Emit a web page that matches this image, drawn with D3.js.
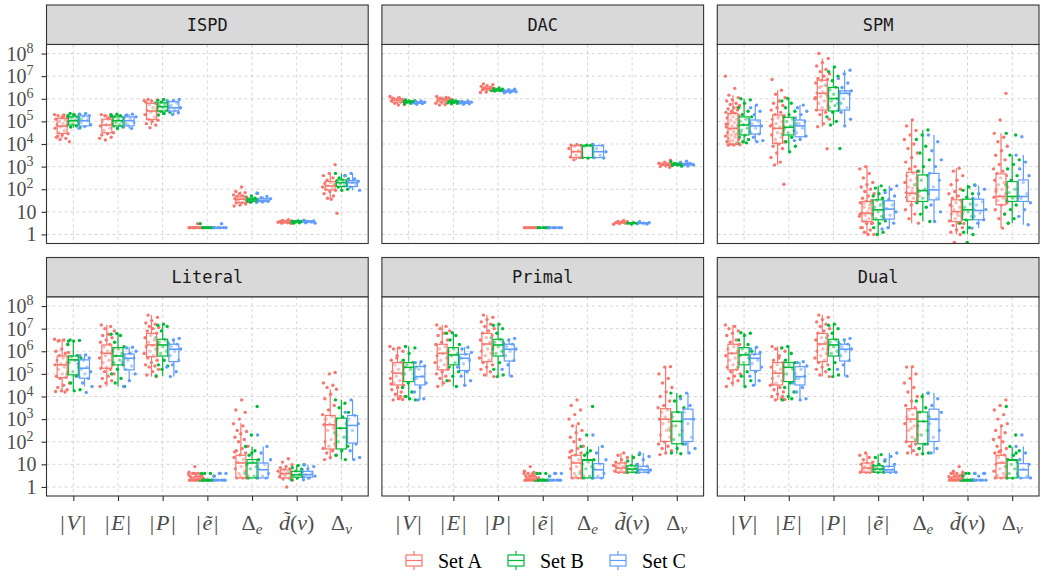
<!DOCTYPE html>
<html lang="en">
<head>
<meta charset="UTF-8">
<title>Hypergraph statistics by benchmark</title>
<script src="https://d3js.org/d3.v7.min.js"></script>
<style>
  body { margin: 0; background: #fff; }
  .strip text { font: 17px "DejaVu Sans Mono", monospace; fill: #1a1a1a; }
  .ylab, .xlab, .legend text { font-family: "Liberation Serif", "DejaVu Serif", serif; fill: #4d4d4d; }
  .legend text { fill: #000; }
  .grid line { stroke: #c4c4c4; stroke-width: 0.7; stroke-dasharray: 3,3; }
  .axis path { display: none; }
  .axis line { stroke: #333; stroke-width: 1.1; }
</style>
</head>
<body>
<svg width="1045" height="577"></svg>
<script>
// ---- data (all values are log10 of the measured quantity) ----
const facets = ["ISPD", "DAC", "SPM", "Literal", "Primal", "Dual"];
const measures = ["V", "E", "P", "e", "De", "d", "Dv"];
const sets = ["Set A", "Set B", "Set C"];
const colors = ["#F8766D", "#00BA38", "#619CFF"];
const decades = [0, 1, 2, 3, 4, 5, 6, 7, 8];

// box stats per measure, per set: [lower whisker, q1, median, q3, upper whisker]
const ispdBox = [
  [[4.25,4.47,4.79,5.13,5.3],[4.72,4.84,5.03,5.2,5.35],[4.7,4.8,5.03,5.24,5.35]],
  [[4.4,4.5,4.84,5.1,5.3],[4.69,4.8,5.03,5.2,5.32],[4.69,4.8,5.03,5.2,5.32]],
  [[4.84,5.09,5.46,5.8,5.97],[5.28,5.46,5.65,5.82,5.97],[5.28,5.46,5.6,5.87,5.97]],
  [[0.301,0.301,0.301,0.301,0.301],[0.301,0.301,0.301,0.301,0.301],[0.301,0.301,0.301,0.301,0.301]],
  [[1.26,1.41,1.56,1.68,1.9],[1.4,1.47,1.53,1.6,1.7],[1.4,1.45,1.5,1.58,1.68]],
  [[0.48,0.54,0.57,0.6,0.65],[0.5,0.55,0.57,0.6,0.62],[0.5,0.55,0.57,0.6,0.62]],
  [[1.6,1.97,2.15,2.34,2.7],[1.95,2.12,2.29,2.41,2.7],[1.95,2.12,2.29,2.38,2.7]]
];
const ispdPts = [
  [[5.3,5.28,5.25,5.2,5.15,5.1,5.05,5.0,4.95,4.9,4.85,4.8,4.75,4.7,4.6,4.5,4.45,4.4,4.3,4.25,4.2,4.1,5.22,4.35],
   [5.35,5.32,5.3,5.25,5.2,5.15,5.1,5.05,5.0,4.95,4.9,4.85,4.8,4.75,4.72,5.28,5.18,5.08],
   [5.35,5.3,5.25,5.2,5.1,5.03,4.95,4.85,4.78,4.7,5.15]],
  [[5.3,5.28,5.25,5.2,5.1,5.0,4.9,4.85,4.8,4.7,4.6,4.5,4.45,4.4,4.3,4.18,4.25,5.15],
   [5.32,5.3,5.25,5.2,5.15,5.1,5.05,5.0,4.95,4.9,4.85,4.8,4.75,4.69,5.22],
   [5.32,5.28,5.2,5.12,5.03,4.95,4.85,4.78,4.69,5.25]],
  [[5.97,5.95,5.9,5.85,5.8,5.75,5.7,5.6,5.5,5.45,5.4,5.3,5.2,5.1,5.05,5.0,4.9,4.84,4.72,5.92],
   [5.97,5.93,5.9,5.85,5.8,5.75,5.7,5.65,5.6,5.55,5.5,5.45,5.4,5.35,5.28],
   [5.97,5.92,5.88,5.8,5.7,5.6,5.5,5.45,5.38,5.3]],
  [[0.301,0.301,0.301,0.301,0.301,0.301,0.301,0.301,0.301,0.301,0.477],
   [0.301,0.301,0.301,0.301,0.301,0.301,0.301,0.477],
   [0.301,0.301,0.301,0.301,0.301,0.301,0.477]],
  [[2.1,1.9,1.85,1.8,1.75,1.7,1.68,1.65,1.6,1.58,1.55,1.5,1.45,1.42,1.4,1.35,1.3,1.26,1.6,1.52],
   [1.82,1.7,1.65,1.6,1.55,1.53,1.5,1.48,1.45,1.42],
   [1.82,1.68,1.62,1.58,1.55,1.5,1.47,1.44,1.42]],
  [[0.65,0.62,0.6,0.58,0.57,0.56,0.55,0.54,0.52,0.5,0.48],
   [0.62,0.6,0.58,0.57,0.56,0.55,0.52,0.5],
   [0.62,0.6,0.58,0.57,0.55,0.52,0.5]],
  [[3.09,2.7,2.6,2.5,2.4,2.35,2.3,2.25,2.2,2.15,2.1,2.05,2.0,1.95,1.9,1.8,1.7,1.6,0.94,1.56],
   [2.7,2.6,2.5,2.45,2.4,2.35,2.3,2.25,2.2,2.15,2.1,2.0,1.95],
   [2.7,2.6,2.45,2.4,2.35,2.3,2.25,2.2,2.1,1.95]]
];

const dacBox = [
  [[5.75,5.85,5.94,6.0,6.1],[5.8,5.84,5.87,5.9,5.95],[5.77,5.8,5.83,5.86,5.9]],
  [[5.75,5.86,5.95,6.02,6.1],[5.8,5.84,5.87,5.9,5.95],[5.77,5.8,5.83,5.86,5.9]],
  [[6.3,6.4,6.46,6.52,6.62],[6.32,6.35,6.38,6.42,6.46],[6.28,6.31,6.34,6.37,6.42]],
  [[0.301,0.301,0.301,0.301,0.301],[0.301,0.301,0.301,0.301,0.301],[0.301,0.301,0.301,0.301,0.301]],
  [[3.3,3.4,3.66,3.93,3.98],[3.38,3.4,3.93,3.93,3.98],[3.38,3.4,3.66,3.93,3.98]],
  [[0.45,0.5,0.53,0.56,0.62],[0.46,0.48,0.5,0.52,0.55],[0.46,0.48,0.5,0.52,0.55]],
  [[2.95,3.05,3.1,3.15,3.25],[3.02,3.06,3.1,3.13,3.2],[3.02,3.07,3.1,3.14,3.2]]
];
const dacPts = [
  [[6.1,6.05,6.0,5.97,5.94,5.9,5.86,5.8,5.75,5.72,6.02,5.92],
   [5.95,5.92,5.9,5.88,5.87,5.85,5.83,5.8,5.78],
   [5.9,5.87,5.85,5.83,5.81,5.79,5.76]],
  [[6.1,6.06,6.02,5.98,5.95,5.92,5.88,5.85,5.8,5.75,5.72,6.04],
   [5.95,5.92,5.9,5.88,5.86,5.84,5.82,5.8,5.78],
   [5.9,5.88,5.85,5.83,5.81,5.78,5.76]],
  [[6.66,6.62,6.58,6.55,6.5,6.48,6.46,6.44,6.4,6.36,6.3,6.28],
   [6.48,6.45,6.42,6.4,6.38,6.36,6.34,6.32],
   [6.42,6.4,6.37,6.35,6.33,6.31,6.29,6.26]],
  [[0.301,0.301,0.301,0.301,0.301,0.301,0.301,0.301],
   [0.301,0.301,0.301,0.301,0.301,0.301],
   [0.301,0.301,0.301,0.301,0.301,0.301]],
  [[3.98,3.95,3.93,3.9,3.8,3.7,3.66,3.6,3.5,3.42,3.4,3.3],
   [3.98,3.95,3.93,3.93,3.9,3.4,3.38,3.4],
   [3.98,3.93,3.8,3.66,3.5,3.4,3.38]],
  [[0.62,0.58,0.56,0.54,0.52,0.5,0.48,0.45],
   [0.55,0.52,0.5,0.48,0.46],
   [0.55,0.52,0.5,0.48,0.46]],
  [[3.28,3.2,3.15,3.12,3.1,3.08,3.05,3.0,2.97],
   [3.22,3.18,3.14,3.1,3.08,3.05,3.02],
   [3.24,3.18,3.14,3.1,3.07,3.03]]
];

const spmBox = [
  [[3.95,4.0,4.69,5.35,6.16],[4.03,4.4,4.84,5.2,6.0],[4.1,4.44,4.8,5.06,5.72]],
  [[3.07,4.03,4.69,5.28,6.38],[3.66,4.4,4.74,5.18,6.01],[4.15,4.32,4.8,5.06,5.72]],
  [[4.76,5.5,6.24,6.82,7.78],[4.84,5.46,6.01,6.5,7.41],[4.8,5.5,6.24,6.35,7.26]],
  [[0,0.57,0.94,1.46,3.0],[0,0.65,1.09,1.53,2.15],[0.24,0.68,1.12,1.49,2.15]],
  [[0.5,1.46,1.82,2.75,5.06],[0.57,1.46,1.94,2.63,4.62],[0.57,1.53,1.97,2.7,4.4]],
  [[0,0.57,1.01,1.53,2.93],[0,0.65,1.09,1.56,2.19],[0.28,0.65,1.06,1.56,2.16]],
  [[0.28,1.31,1.68,2.68,4.47],[0.5,1.46,1.68,2.34,3.51],[0.43,1.46,1.68,2.41,3.51]]
];
const spmPts = [
  [[7.0,6.46,6.16,6.05,5.95,5.9,5.8,5.75,5.7,5.6,5.55,5.5,5.45,5.4,5.35,5.3,5.25,5.2,5.15,5.1,5.05,5.0,4.95,4.9,4.85,4.8,4.75,4.7,4.65,4.6,4.55,4.5,4.45,4.4,4.35,4.3,4.25,4.2,4.15,4.1,4.05,4.0,3.97,3.96,3.95,5.62,5.38,4.88,4.42,4.12,4.02,3.98],
   [6.0,5.95,5.8,5.6,5.45,5.3,5.2,5.1,5.0,4.9,4.85,4.8,4.7,4.6,4.5,4.4,4.3,4.2,4.1,4.03,4.05,4.5,4.95],
   [5.72,5.6,5.45,5.3,5.1,5.0,4.9,4.8,4.7,4.55,4.45,4.3,4.15,4.1]],
  [[6.85,6.38,6.2,6.05,5.9,5.8,5.7,5.6,5.5,5.4,5.3,5.25,5.2,5.1,5.0,4.9,4.8,4.75,4.7,4.6,4.5,4.4,4.3,4.2,4.1,4.0,3.9,3.8,3.6,3.4,3.2,3.07,2.22,5.15,4.85,4.45,4.05],
   [6.01,5.9,5.8,5.6,5.45,5.3,5.2,5.1,5.0,4.9,4.8,4.7,4.6,4.5,4.4,4.3,4.1,3.9,3.66,4.75],
   [5.72,5.6,5.45,5.3,5.15,5.0,4.9,4.8,4.7,4.5,4.35,4.2,4.15]],
  [[8.0,7.78,7.6,7.45,7.3,7.2,7.1,7.0,6.9,6.85,6.8,6.7,6.6,6.5,6.4,6.3,6.25,6.2,6.1,6.0,5.9,5.8,5.7,5.6,5.5,5.4,5.3,5.1,4.9,4.76,3.79,6.55,6.05],
   [7.41,7.2,7.0,6.8,6.6,6.5,6.4,6.3,6.2,6.1,6.0,5.9,5.8,5.7,5.6,5.5,5.4,5.2,5.0,4.84,3.8],
   [7.26,7.1,6.9,6.7,6.5,6.35,6.3,6.25,6.2,6.0,5.8,5.6,5.4,5.1,4.8]],
  [[3.0,2.9,2.7,2.5,2.3,2.2,2.1,2.0,1.9,1.8,1.7,1.6,1.5,1.45,1.4,1.3,1.2,1.1,1.0,0.95,0.9,0.85,0.8,0.7,0.6,0.5,0.48,0.3,0.2,0.1,0,0,0.3,0.48,0.6,0.9,1.15,1.35],
   [2.15,2.05,1.95,1.8,1.7,1.6,1.5,1.4,1.3,1.2,1.1,1.0,0.9,0.8,0.7,0.6,0.48,0.3,0.1,0],
   [2.15,2.0,1.85,1.7,1.55,1.4,1.3,1.15,1.0,0.85,0.7,0.5,0.3,0.24]],
  [[5.06,4.8,4.6,4.4,4.2,4.0,3.8,3.6,3.4,3.2,3.0,2.9,2.8,2.7,2.6,2.5,2.4,2.3,2.2,2.1,2.0,1.9,1.85,1.8,1.75,1.7,1.6,1.5,1.45,1.3,1.1,0.9,0.7,0.5,2.05,1.65],
   [4.62,4.4,4.2,3.9,3.6,3.3,3.0,2.8,2.6,2.4,2.2,2.0,1.9,1.8,1.6,1.4,1.2,0.9,0.57],
   [4.4,4.1,3.7,3.3,3.0,2.7,2.4,2.1,1.9,1.6,1.3,1.0,0.57]],
  [[2.93,2.8,2.6,2.4,2.2,2.0,1.9,1.8,1.7,1.6,1.5,1.4,1.3,1.2,1.1,1.0,0.95,0.9,0.8,0.7,0.6,0.5,0.4,0.3,0.2,0.1,0,-0.35,0.48,0.85,1.25],
   [2.19,2.1,1.95,1.8,1.65,1.5,1.35,1.2,1.1,1.0,0.9,0.8,0.65,0.5,0.3,0.1,0,-0.35],
   [2.16,2.0,1.8,1.6,1.45,1.3,1.1,0.95,0.8,0.65,0.5,0.28]],
  [[6.24,5.06,4.47,4.3,4.1,3.9,3.7,3.5,3.3,3.1,2.9,2.8,2.7,2.6,2.5,2.4,2.3,2.2,2.1,2.0,1.9,1.8,1.7,1.65,1.6,1.5,1.4,1.3,1.1,0.9,0.7,0.5,0.28,2.0],
   [4.47,4.4,3.51,3.3,3.1,2.9,2.6,2.4,2.2,2.0,1.85,1.7,1.6,1.5,1.3,1.1,0.9,0.7,0.5],
   [4.32,3.51,3.2,2.9,2.6,2.3,2.0,1.8,1.6,1.4,1.1,0.8,0.43]]
];

const literalBox = [
  [[4.22,4.84,5.4,5.79,6.53],[4.29,4.96,5.62,5.79,6.5],[4.44,4.81,5.25,5.62,5.84]],
  [[4.44,5.25,5.91,6.28,7.16],[4.44,5.4,5.79,6.16,6.79],[4.66,5.18,5.69,5.88,6.18]],
  [[4.88,5.76,6.28,6.79,7.6],[4.91,5.79,6.28,6.53,7.2],[4.88,5.54,6.09,6.31,6.57]],
  [[0.301,0.32,0.35,0.44,0.65],[0.301,0.301,0.301,0.301,0.301],[0.301,0.301,0.301,0.301,0.301]],
  [[0.4,0.4,1.06,1.4,2.82],[0.4,0.4,1.06,1.21,1.79],[0.4,0.4,0.76,1.06,1.79]],
  [[0.4,0.4,0.59,0.76,0.98],[0.32,0.43,0.54,0.69,0.98],[0.32,0.43,0.54,0.69,0.98]],
  [[1.21,1.68,2.75,3.16,4.32],[1.21,1.68,2.6,3.04,3.85],[1.21,1.94,2.72,3.16,3.85]]
];
const literalPts = [
  [[6.53,6.5,6.45,6.3,6.1,6.0,5.9,5.8,5.75,5.7,5.6,5.5,5.45,5.4,5.3,5.2,5.1,5.0,4.9,4.85,4.8,4.6,4.5,4.4,4.3,4.25,4.22,4.2,6.48,5.95],
   [6.5,6.48,6.45,6.3,5.8,5.75,5.7,5.6,5.5,5.3,5.1,5.0,4.9,4.6,4.3,4.25,6.45],
   [5.84,5.8,5.7,5.6,5.45,5.3,5.2,5.1,5.0,4.9,4.8,4.6,4.44,4.18]],
  [[7.16,7.1,7.0,6.9,6.75,6.7,6.6,6.5,6.4,6.3,6.2,6.1,6.0,5.95,5.9,5.8,5.7,5.6,5.5,5.4,5.3,5.25,5.2,5.1,5.0,4.9,4.8,4.7,4.6,4.44],
   [6.79,6.75,6.7,6.4,6.2,6.1,6.0,5.9,5.8,5.7,5.6,5.5,5.4,5.2,5.0,4.8,4.6,4.44],
   [6.18,6.15,6.0,5.9,5.8,5.7,5.6,5.5,5.35,5.2,5.0,4.7,4.44]],
  [[7.6,7.5,7.35,7.25,7.2,7.1,7.05,7.0,6.9,6.8,6.7,6.6,6.5,6.4,6.3,6.25,6.2,6.1,6.0,5.9,5.8,5.7,5.6,5.5,5.4,5.35,5.3,5.2,5.1,4.95,4.88],
   [7.2,7.15,7.1,6.9,6.6,6.5,6.4,6.3,6.2,6.1,6.0,5.9,5.8,5.6,5.4,5.35,5.2,4.91],
   [6.57,6.5,6.4,6.3,6.2,6.1,6.0,5.8,5.6,5.4,5.3,5.1,4.88]],
  [[0.9,0.65,0.6,0.6,0.5,0.48,0.45,0.42,0.4,0.38,0.35,0.33,0.32,0.3,0.3,0.3,0.3,0.3,0.3,0.3,0.48,0.6,0.55,0.4],
   [0.6,0.6,0.48,0.3,0.3,0.3,0.3,0.3,0.3,0.3,0.3,0.3,0.6],
   [0.6,0.6,0.48,0.3,0.3,0.3,0.3,0.3,0.3,0.6]],
  [[3.85,3.4,3.3,3.0,2.8,2.7,2.5,2.45,2.35,2.2,2.1,2.0,1.8,1.7,1.6,1.5,1.4,1.3,1.2,1.1,1.0,0.9,0.8,0.7,0.6,0.5,0.4,0.4,0.4,0.48,1.55],
   [3.56,2.3,1.79,1.6,1.4,1.2,1.1,1.0,0.9,0.8,0.6,0.48,0.4,0.4,1.5],
   [2.3,1.79,1.5,1.2,1.0,0.8,0.6,0.48,0.4,0.4]],
  [[1.25,1.1,0.98,0.9,0.85,0.8,0.75,0.7,0.65,0.6,0.55,0.5,0.45,0.4,0.35,0.3,0,0.6,0.7,0.55],
   [0.98,0.95,0.85,0.78,0.7,0.62,0.55,0.5,0.45,0.4,0.32,0.6],
   [0.98,0.9,0.8,0.7,0.6,0.55,0.48,0.4,0.32]],
  [[5.06,5.0,4.6,4.5,4.4,4.32,4.1,3.9,3.6,3.4,3.2,3.1,3.0,2.9,2.8,2.75,2.6,2.5,2.3,2.1,2.0,1.9,1.8,1.7,1.6,1.5,1.4,1.3,1.21,2.7],
   [3.85,3.7,3.5,3.3,3.1,3.0,2.8,2.6,2.4,2.2,2.0,1.8,1.6,1.4,1.21],
   [3.85,3.3,3.15,3.0,2.8,2.5,2.2,1.9,1.6,1.3,1.21]]
];

const primalBox = [
  [[3.85,4.51,5.03,5.5,6.21],[3.85,4.66,5.29,5.5,6.21],[3.85,4.51,4.88,5.32,5.54]],
  [[4.44,5.18,5.91,6.31,7.16],[4.44,5.4,5.84,6.16,6.82],[4.47,5.15,5.69,5.87,6.18]],
  [[4.88,5.54,6.32,6.79,7.6],[4.88,5.79,6.28,6.53,7.2],[4.88,5.57,6.09,6.31,6.57]],
  [[0.301,0.32,0.35,0.44,0.65],[0.301,0.301,0.301,0.301,0.301],[0.301,0.301,0.301,0.301,0.301]],
  [[0.4,0.4,1.06,1.4,2.75],[0.4,0.4,1.18,1.21,1.79],[0.4,0.4,0.76,1.03,1.79]],
  [[0.65,0.65,0.84,1.06,1.5],[0.65,0.65,0.79,0.94,1.43],[0.65,0.65,0.76,0.91,1.5]],
  [[1.43,2.01,3.0,3.46,5.32],[1.47,1.91,2.9,3.31,4.15],[1.47,2.01,3.0,3.44,4.15]]
];
const primalPts = [
  [[6.21,6.15,6.1,6.0,5.8,5.6,5.5,5.4,5.3,5.2,5.1,5.0,4.9,4.8,4.7,4.6,4.5,4.4,4.3,4.2,4.1,4.0,3.9,3.85,3.87,5.7,4.55,4.0],
   [6.21,6.15,5.9,5.6,5.5,5.4,5.3,5.2,5.0,4.8,4.6,4.4,4.2,4.0,3.85,3.9],
   [5.54,5.5,5.35,5.2,5.0,4.9,4.8,4.6,4.4,4.2,3.9,3.85]],
  [[7.16,7.1,7.0,6.9,6.8,6.7,6.5,6.4,6.3,6.2,6.1,6.0,5.9,5.8,5.7,5.6,5.5,5.4,5.3,5.2,5.1,5.0,4.9,4.8,4.7,4.6,4.44],
   [6.82,6.8,6.7,6.5,6.3,6.1,6.0,5.9,5.8,5.7,5.5,5.3,5.1,4.9,4.7,4.44],
   [6.18,6.1,5.95,5.85,5.7,5.6,5.45,5.3,5.1,4.9,4.7,4.5]],
  [[7.6,7.5,7.4,7.3,7.2,7.1,7.0,6.9,6.8,6.7,6.6,6.5,6.4,6.3,6.2,6.1,6.0,5.9,5.8,5.7,5.6,5.5,5.4,5.3,5.2,5.1,4.95,4.88],
   [7.2,7.15,7.0,6.8,6.6,6.5,6.4,6.3,6.2,6.1,6.0,5.9,5.8,5.5,5.2,4.95,4.88],
   [6.57,6.5,6.4,6.3,6.2,6.1,6.0,5.8,5.6,5.4,5.2,4.9]],
  [[0.9,0.7,0.65,0.6,0.6,0.5,0.48,0.45,0.42,0.4,0.38,0.35,0.33,0.32,0.3,0.3,0.3,0.3,0.3,0.3,0.3,0.48,0.6,0.55],
   [0.6,0.6,0.48,0.3,0.3,0.3,0.3,0.3,0.3,0.3,0.3,0.3,0.6],
   [0.6,0.6,0.48,0.3,0.3,0.3,0.3,0.3,0.3,0.6]],
  [[3.85,3.6,3.4,3.2,3.0,2.8,2.7,2.5,2.4,2.2,2.1,2.0,1.8,1.7,1.6,1.5,1.4,1.3,1.2,1.1,1.0,0.9,0.8,0.7,0.6,0.5,0.4,0.4,0.4,0.48,1.55],
   [3.56,2.3,1.79,1.6,1.4,1.2,1.1,1.0,0.9,0.8,0.6,0.48,0.4,0.4,1.5],
   [2.3,1.79,1.5,1.2,1.0,0.8,0.6,0.48,0.4,0.4]],
  [[1.5,1.4,1.3,1.2,1.1,1.05,1.0,0.95,0.9,0.85,0.8,0.75,0.7,0.65,0.65,0.65,0.7,0.9],
   [1.43,1.3,1.15,1.0,0.95,0.9,0.85,0.8,0.75,0.7,0.65,0.65],
   [1.5,1.35,1.2,1.0,0.9,0.8,0.75,0.7,0.65,0.65]],
  [[5.32,5.3,5.0,4.8,4.6,4.4,4.2,4.0,3.8,3.6,3.5,3.4,3.3,3.2,3.1,3.0,2.9,2.8,2.7,2.5,2.3,2.2,2.0,1.9,1.8,1.7,1.6,1.5,1.43,2.6],
   [4.15,4.0,3.8,3.5,3.3,3.1,2.9,2.7,2.5,2.3,2.1,1.9,1.7,1.5,1.47],
   [4.15,3.9,3.6,3.3,3.0,2.8,2.5,2.2,1.9,1.7,1.5]]
];

// the dual swaps vertices and edges: its measures are the primal ones in this order
const dualFromPrimal = [1, 0, 2, 5, 6, 3, 4];
const dualBox = dualFromPrimal.map(k => primalBox[k]);
const dualPts = dualFromPrimal.map(k => primalPts[k]);

const boxData = [ispdBox, dacBox, spmBox, literalBox, primalBox, dualBox];
const ptsData = [ispdPts, dacPts, spmPts, literalPts, primalPts, dualPts];

// axis labels as (text, italic, subscript) pieces
const xLabels = [
  [["|"], ["\u200AV\u200A", 1], ["|"]],
  [["|"], ["\u200AE\u200A", 1], ["|"]],
  [["|"], ["\u200AP\u200A", 1], ["|"]],
  [["|"], ["\u200A\u1EBD\u200A", 1], ["|"]],
  [["\u0394"], ["e", 1, 1]],
  [["d\u0303", 1], ["("], ["v", 1], [")"]],
  [["\u0394"], ["v", 1, 1]]
];

// ---- layout ----
const svg = d3.select("svg");
const panelW = 321.7, panelH = 199, stripH = 39.5;
const colX = [46.5, 381.9, 717.3];
const rowY = [5, 257.5];

const x = d3.scalePoint().domain(measures).range([0, panelW]).padding(0.6);
const y = d3.scaleLog().domain([Math.pow(10, -0.4), Math.pow(10, 8.4)]).range([panelH, 0]);
const step = x.step();
const boxW = step * 0.25;
const jitterW = step * 0.34;

function jitter(i, s, m) {
  return (((i * 0.618034 + s * 0.29 + m * 0.137) % 1) - 0.5) * jitterW;
}

function superTick(sel, d) {
  if (d === 0) sel.text("1");
  else if (d === 1) sel.text("10");
  else {
    sel.text("10");
    sel.append("tspan").attr("dy", -8).attr("font-size", 14).text(d);
  }
}

facets.forEach((name, fi) => {
  const col = fi % 3, row = Math.floor(fi / 3);
  const g = svg.append("g").attr("transform", `translate(${colX[col]},${rowY[row]})`);

  // strip
  const strip = g.append("g").attr("class", "strip");
  strip.append("rect")
    .attr("width", panelW).attr("height", stripH)
    .attr("fill", "#d9d9d9").attr("stroke", "#333").attr("stroke-width", 1.1);
  strip.append("text")
    .attr("x", panelW / 2).attr("y", stripH / 2).attr("dy", "0.36em")
    .attr("text-anchor", "middle").text(name);

  const p = g.append("g").attr("transform", `translate(0,${stripH})`);
  p.append("rect").attr("width", panelW).attr("height", panelH).attr("fill", "#fff");

  // grid
  const grid = p.append("g").attr("class", "grid");
  grid.selectAll("line.h").data(decades).join("line")
    .attr("x1", 0).attr("x2", panelW)
    .attr("y1", d => y(Math.pow(10, d))).attr("y2", d => y(Math.pow(10, d)));
  grid.selectAll("line.v").data(measures).join("line")
    .attr("x1", d => x(d)).attr("x2", d => x(d))
    .attr("y1", 0).attr("y2", panelH);

  const boxes = boxData[fi], pts = ptsData[fi];

  // jittered points
  measures.forEach((m, mi) => {
    sets.forEach((s, si) => {
      const cx = x(m) + (si - 1) * boxW;
      p.append("g").selectAll("circle").data(pts[mi][si]).join("circle")
        .attr("cx", (d, i) => cx + jitter(i, si, mi))
        .attr("cy", d => y(Math.pow(10, d)))
        .attr("r", 1.7)
        .attr("fill", colors[si]);
    });
  });

  // boxes on top
  measures.forEach((m, mi) => {
    sets.forEach((s, si) => {
      const [lo, q1, med, q3, hi] = boxes[mi][si].map(v => y(Math.pow(10, v)));
      const cx = x(m) + (si - 1) * boxW;
      const bg = p.append("g").attr("stroke", colors[si]).attr("stroke-width", 1.2);
      bg.append("line").attr("x1", cx).attr("x2", cx).attr("y1", q3).attr("y2", hi);
      bg.append("line").attr("x1", cx).attr("x2", cx).attr("y1", q1).attr("y2", lo);
      bg.append("rect")
        .attr("x", cx - boxW / 2 + 0.6).attr("width", boxW - 1.2)
        .attr("y", q3).attr("height", Math.max(0.01, q1 - q3))
        .attr("fill", "#fff").attr("fill-opacity", 0.5);
      bg.append("line").attr("x1", cx - boxW / 2 + 0.6).attr("x2", cx + boxW / 2 - 0.6)
        .attr("y1", med).attr("y2", med).attr("stroke-width", 1.6);
    });
  });

  // border
  p.append("rect").attr("width", panelW).attr("height", panelH)
    .attr("fill", "none").attr("stroke", "#333").attr("stroke-width", 1.1);

  if (col === 0) {
    p.append("g").attr("class", "axis")
      .call(d3.axisLeft(y).tickValues(decades.map(d => Math.pow(10, d))).tickSize(5).tickFormat(""));
    p.append("g").selectAll("text").data(decades).join("text")
      .attr("class", "ylab")
      .attr("x", d => d < 2 ? -10 : -13).attr("y", d => y(Math.pow(10, d))).attr("dy", "0.35em")
      .attr("text-anchor", "end").attr("font-size", 20)
      .each(function(d) { superTick(d3.select(this), d); });
  }

  if (row === 1) {
    p.append("g").attr("class", "axis").attr("transform", `translate(0,${panelH})`)
      .call(d3.axisBottom(x).tickSize(5).tickFormat(""));
    measures.forEach((m, mi) => {
      const t = p.append("text").attr("class", "xlab")
        .attr("x", x(m)).attr("y", panelH + 34)
        .attr("text-anchor", "middle").attr("font-size", 22);
      xLabels[mi].forEach(([txt, it, sub]) => {
        const ts = t.append("tspan").text(txt);
        if (it) ts.attr("font-style", "italic");
        if (sub) ts.attr("font-size", 15).attr("dy", 4);
      });
    });
  }
});

// ---- legend ----
const legend = svg.append("g").attr("class", "legend");
sets.forEach((s, si) => {
  const lx = 405 + si * 102, ly = 551;
  const k = legend.append("g").attr("stroke", colors[si]).attr("stroke-width", 1.2).attr("fill", "none");
  k.append("line").attr("x1", lx + 9).attr("x2", lx + 9).attr("y1", ly).attr("y2", ly + 4);
  k.append("line").attr("x1", lx + 9).attr("x2", lx + 9).attr("y1", ly + 15).attr("y2", ly + 19);
  k.append("rect").attr("x", lx + 1).attr("y", ly + 4).attr("width", 16).attr("height", 11);
  k.append("line").attr("x1", lx + 1).attr("x2", lx + 17).attr("y1", ly + 9.5).attr("y2", ly + 9.5);
  legend.append("text").attr("x", lx + 33).attr("y", ly + 10).attr("dy", "0.35em")
    .attr("font-size", 20).text(s);
});
</script>
</body>
</html>
